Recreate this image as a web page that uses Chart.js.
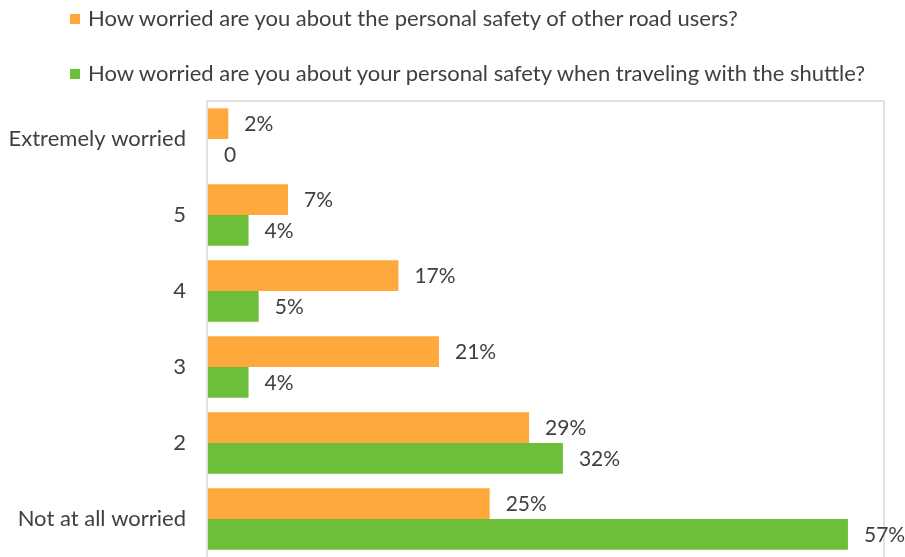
<!DOCTYPE html>
<html>
<head>
<meta charset="utf-8">
<script src="https://cdn.jsdelivr.net/npm/chart.js@4.4.1/dist/chart.umd.min.js"></script>
<style>
  body { margin: 0; background: #fff; }
  #wrap { position: relative; width: 905px; height: 557px; }
  #legend { position: absolute; left: 70px; top: 0; font-family: Lato, sans-serif; font-size: 22px; color: #404040; }
  .item { position: absolute; left: 0; height: 22px; line-height: 22px; white-space: nowrap; }
  .item span { display: inline-block; width: 10px; height: 10px; margin-right: 8px; vertical-align: 2px; }
</style>
</head>
<body>
<div id="wrap">
  <canvas id="chart" width="905" height="557"></canvas>
  <div id="legend"></div>
</div>
<script>
const categories = ["Extremely worried", "5", "4", "3", "2", "Not at all worried"];
const otherRoadUsers = [1.8, 7.1, 16.9, 20.5, 28.5, 25.0];
const shuttleSafety = [0, 3.6, 4.5, 3.6, 31.5, 56.8];
const seriesNames = [
  "How worried are you about the personal safety of other road users?",
  "How worried are you about your personal safety when traveling with the shuttle?"
];
const xMax = 60;

const textColor = "#404040";
const lineColor = "#d9d9d9";

// value labels at the end of each bar
const barLabels = {
  id: "barLabels",
  afterDatasetsDraw(chart) {
    const ctx = chart.ctx;
    ctx.save();
    ctx.font = "21px Lato";
    ctx.fillStyle = textColor;
    ctx.textAlign = "left";
    ctx.textBaseline = "middle";
    chart.data.datasets.forEach((ds, i) => {
      chart.getDatasetMeta(i).data.forEach((bar, j) => {
        const v = ds.data[j];
        const txt = v === 0 ? "0" : Math.round(v) + "%";
        ctx.fillText(txt, bar.x + 16, bar.y + 1);
      });
    });
    ctx.restore();
  }
};

// plot area frame (left, top, right)
const frame = {
  id: "frame",
  beforeDatasetsDraw(chart) {
    const { left, top, right, bottom } = chart.chartArea;
    const ctx = chart.ctx;
    ctx.save();
    ctx.strokeStyle = lineColor;
    ctx.lineWidth = 1.5;
    ctx.beginPath();
    ctx.moveTo(left - 1, bottom + 2);
    ctx.lineTo(left - 1, top);
    ctx.lineTo(right, top);
    ctx.lineTo(right, bottom + 2);
    ctx.stroke();
    ctx.restore();
  }
};

const chart = new Chart(document.getElementById("chart"), {
  type: "bar",
  data: {
    labels: categories,
    datasets: [
      { label: seriesNames[0], data: otherRoadUsers, backgroundColor: "#ffa83b" },
      { label: seriesNames[1], data: shuttleSafety, backgroundColor: "#6dbf3a" }
    ]
  },
  options: {
    indexAxis: "y",
    responsive: false,
    animation: false,
    layout: { padding: { top: 101, right: 21, bottom: 0, left: 0 } },
    datasets: { bar: { categoryPercentage: 0.807, barPercentage: 1 } },
    plugins: { legend: { display: false }, tooltip: { enabled: false } },
    scales: {
      x: { min: 0, max: xMax, display: false },
      y: {
        grid: { display: false, drawTicks: false },
        border: { display: false },
        ticks: { color: textColor, font: { family: "Lato", size: 22 }, padding: 22 },
        afterFit(scale) {
          scale.width = 208;
          scale.paddingTop = 0;
          scale.paddingBottom = 0;
        }
      }
    }
  },
  plugins: [barLabels, frame]
});

// legend rows
const legend = document.getElementById("legend");
chart.data.datasets.forEach((ds, i) => {
  const row = document.createElement("div");
  row.className = "item";
  row.style.top = (7 + i * 55) + "px";
  row.innerHTML = '<span style="background:' + ds.backgroundColor + '"></span>' + ds.label;
  legend.appendChild(row);
});
</script>
</body>
</html>
